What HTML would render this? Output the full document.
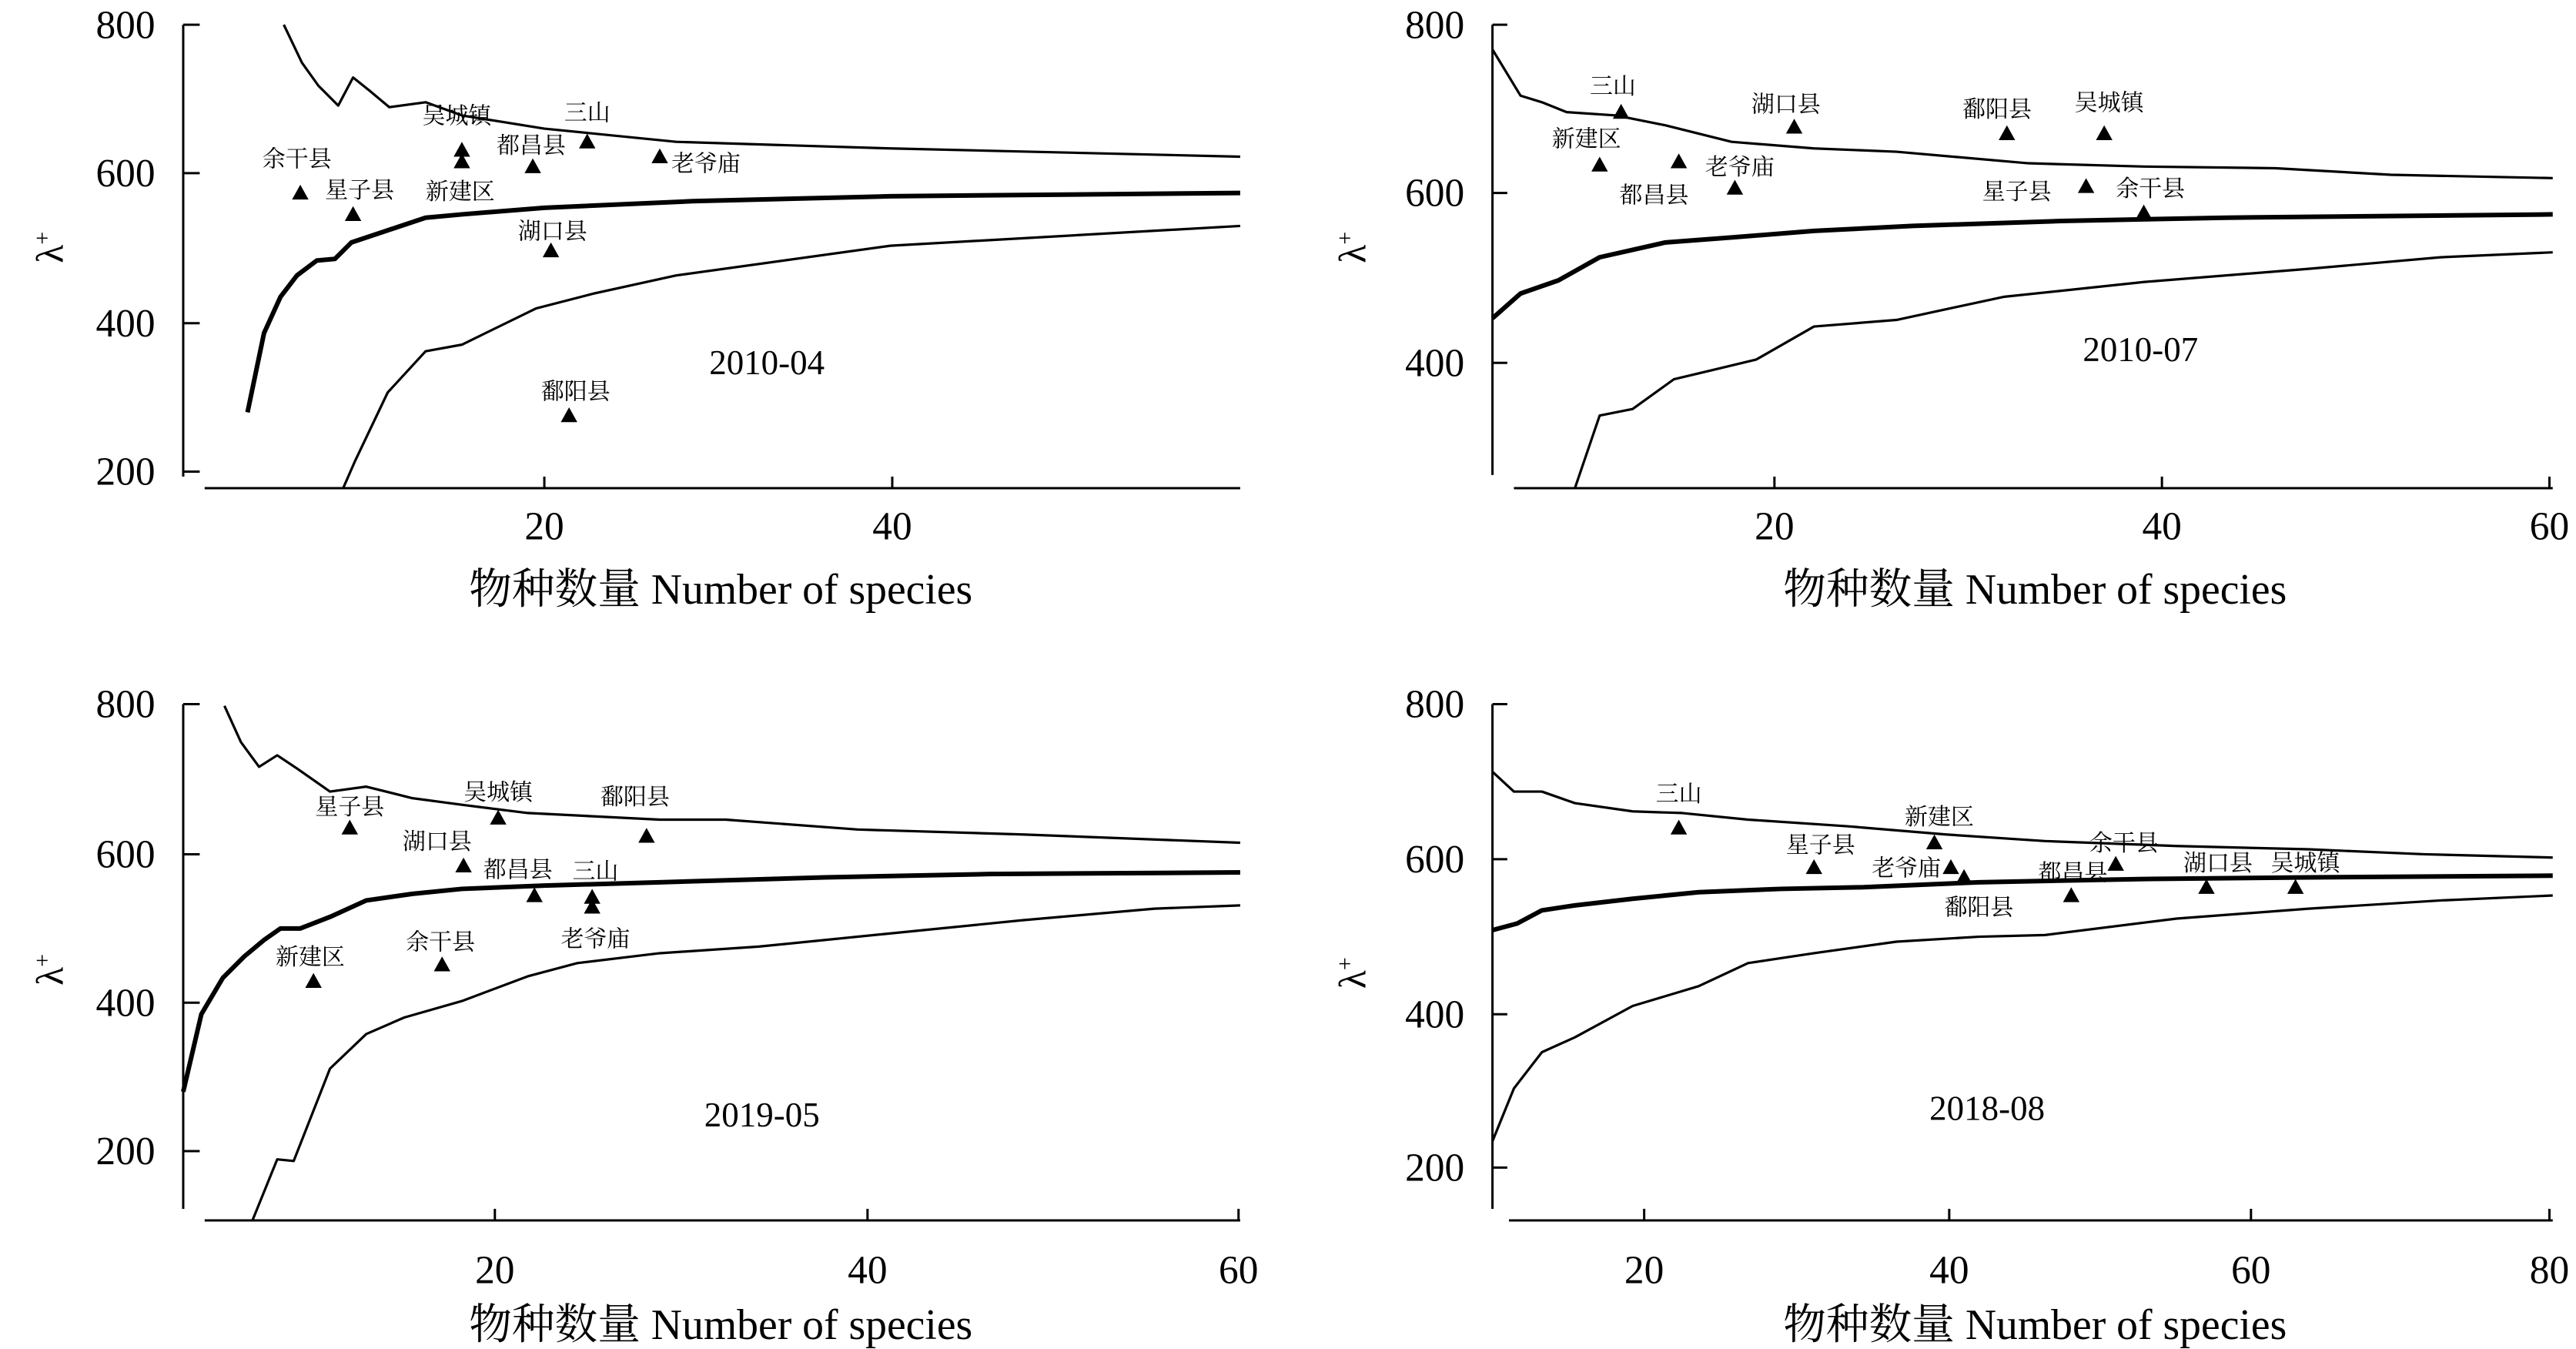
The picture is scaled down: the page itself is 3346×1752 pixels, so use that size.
<!DOCTYPE html>
<html><head><meta charset="utf-8"><style>
html,body{margin:0;padding:0;background:#fff;}
svg{display:block;}
.t{font-family:"Liberation Serif","Noto Serif CJK SC",serif;font-size:24px;fill:#000;}
.ax{font-family:"Liberation Serif","Noto Serif CJK SC",serif;font-size:26px;fill:#000;}
.lam{font-family:"Liberation Serif",serif;font-size:23px;fill:#000;}
.p{font-family:"Liberation Serif","Noto Serif CJK SC","Noto Sans CJK SC",serif;font-size:14px;fill:#000;}
.d{font-family:"Liberation Serif",serif;font-size:21px;fill:#000;}
.l{fill:none;stroke:#000;stroke-width:1.5;stroke-linejoin:round;}
.m{fill:none;stroke:#000;stroke-width:2.8;stroke-linejoin:round;}
.a{stroke:#000;stroke-width:1.4;}
</style></head><body>
<svg width="3346" height="1752" viewBox="0 0 1562 818" xmlns="http://www.w3.org/2000/svg">
<defs><path id="tri" d="M0,-5 L5,4 L-5,4 Z"/></defs>

<!-- Panel 1 -->
<g>
<line class="a" x1="111" y1="15" x2="111" y2="289"/><line class="a" x1="124" y1="296" x2="752" y2="296"/>
<line class="a" x1="111" y1="15" x2="121" y2="15"/><line class="a" x1="111" y1="105" x2="121" y2="105"/><line class="a" x1="111" y1="196" x2="121" y2="196"/><line class="a" x1="111" y1="286" x2="121" y2="286"/>
<line class="a" x1="330" y1="296" x2="330" y2="289"/><line class="a" x1="541" y1="296" x2="541" y2="289"/>
<text class="t" x="94" y="23" text-anchor="end">800</text><text class="t" x="94" y="113" text-anchor="end">600</text><text class="t" x="94" y="204" text-anchor="end">400</text><text class="t" x="94" y="294" text-anchor="end">200</text>
<text class="t" x="330" y="327" text-anchor="middle">20</text><text class="t" x="541" y="327" text-anchor="middle">40</text>
<text class="ax" x="437" y="366" text-anchor="middle">物种数量 Number of species</text>
<text class="lam" transform="translate(38,150) rotate(-90)" text-anchor="middle">λ<tspan dy="-8" font-size="14">+</tspan></text>
<polyline class="l" points="172,15 183,38 193,52 205,64 214,47 224,55 236,65 258,62 280,70 330,78 410,86 540,90 752,95"/>
<polyline class="m" points="150,250 160,202 170,180 180,167 192,158 203,157 213,147 234,140 258,132 280,130 330,126 420,122 540,119 752,117"/>
<polyline class="l" points="208,296 215,280 235,238 258,213 280,209 325,187 360,178 410,167 540,149 752,137"/>
<use href="#tri" x="182" y="117"/><text class="p" x="180" y="101" text-anchor="middle">余干县</text>
<use href="#tri" x="214" y="130"/><text class="p" x="218" y="120" text-anchor="middle">星子县</text>
<use href="#tri" x="280" y="91"/><text class="p" x="277" y="75" text-anchor="middle">吴城镇</text>
<use href="#tri" x="280" y="98"/><text class="p" x="279" y="121" text-anchor="middle">新建区</text>
<use href="#tri" x="323" y="101"/><text class="p" x="322" y="93" text-anchor="middle">都昌县</text>
<use href="#tri" x="356" y="86"/><text class="p" x="356" y="73" text-anchor="middle">三山</text>
<use href="#tri" x="400" y="95"/><text class="p" x="428" y="104" text-anchor="middle">老爷庙</text>
<use href="#tri" x="334" y="152"/><text class="p" x="335" y="145" text-anchor="middle">湖口县</text>
<use href="#tri" x="345" y="252"/><text class="p" x="349" y="242" text-anchor="middle">鄱阳县</text>
<text class="d" x="465" y="227" text-anchor="middle">2010-04</text>
</g>

<!-- Panel 2 -->
<g>
<line class="a" x1="905" y1="15" x2="905" y2="288"/><line class="a" x1="918" y1="296" x2="1548" y2="296"/>
<line class="a" x1="905" y1="15" x2="914" y2="15"/><line class="a" x1="905" y1="117" x2="914" y2="117"/><line class="a" x1="905" y1="220" x2="914" y2="220"/>
<line class="a" x1="1076" y1="296" x2="1076" y2="289"/><line class="a" x1="1311" y1="296" x2="1311" y2="289"/><line class="a" x1="1546" y1="296" x2="1546" y2="289"/>
<text class="t" x="888" y="23" text-anchor="end">800</text><text class="t" x="888" y="125" text-anchor="end">600</text><text class="t" x="888" y="228" text-anchor="end">400</text>
<text class="t" x="1076" y="327" text-anchor="middle">20</text><text class="t" x="1311" y="327" text-anchor="middle">40</text><text class="t" x="1546" y="327" text-anchor="middle">60</text>
<text class="ax" x="1234" y="366" text-anchor="middle">物种数量 Number of species</text>
<text class="lam" transform="translate(828,150) rotate(-90)" text-anchor="middle">λ<tspan dy="-8" font-size="14">+</tspan></text>
<polyline class="l" points="905,30 922,58 935,62 950,68 980,70 1010,76 1050,86 1100,90 1150,92 1230,99 1300,101 1380,102 1450,106 1548,108"/>
<polyline class="m" points="905,193 922,178 945,170 970,156 1010,147 1050,144 1100,140 1160,137 1250,134 1350,132 1548,130"/>
<polyline class="l" points="955,296 970,252 990,248 1015,230 1040,224 1065,218 1100,198 1150,194 1215,180 1300,171 1400,163 1480,156 1548,153"/>
<use href="#tri" x="983" y="68"/><text class="p" x="978" y="57" text-anchor="middle">三山</text>
<use href="#tri" x="1088" y="77"/><text class="p" x="1083" y="68" text-anchor="middle">湖口县</text>
<use href="#tri" x="1217" y="81"/><text class="p" x="1211" y="71" text-anchor="middle">鄱阳县</text>
<use href="#tri" x="1276" y="81"/><text class="p" x="1279" y="67" text-anchor="middle">吴城镇</text>
<use href="#tri" x="970" y="100"/><text class="p" x="962" y="89" text-anchor="middle">新建区</text>
<use href="#tri" x="1018" y="98"/><text class="p" x="1003" y="123" text-anchor="middle">都昌县</text>
<use href="#tri" x="1052" y="114"/><text class="p" x="1055" y="106" text-anchor="middle">老爷庙</text>
<use href="#tri" x="1265" y="113"/><text class="p" x="1223" y="121" text-anchor="middle">星子县</text>
<use href="#tri" x="1300" y="129"/><text class="p" x="1304" y="119" text-anchor="middle">余干县</text>
<text class="d" x="1298" y="219" text-anchor="middle">2010-07</text>
</g>

<!-- Panel 3 -->
<g>
<line class="a" x1="111" y1="427" x2="111" y2="733"/><line class="a" x1="124" y1="740" x2="752" y2="740"/>
<line class="a" x1="111" y1="427" x2="121" y2="427"/><line class="a" x1="111" y1="518" x2="121" y2="518"/><line class="a" x1="111" y1="608" x2="121" y2="608"/><line class="a" x1="111" y1="698" x2="121" y2="698"/>
<line class="a" x1="300" y1="740" x2="300" y2="733"/><line class="a" x1="526" y1="740" x2="526" y2="733"/><line class="a" x1="751" y1="740" x2="751" y2="733"/>
<text class="t" x="94" y="435" text-anchor="end">800</text><text class="t" x="94" y="526" text-anchor="end">600</text><text class="t" x="94" y="616" text-anchor="end">400</text><text class="t" x="94" y="706" text-anchor="end">200</text>
<text class="t" x="300" y="778" text-anchor="middle">20</text><text class="t" x="526" y="778" text-anchor="middle">40</text><text class="t" x="751" y="778" text-anchor="middle">60</text>
<text class="ax" x="437" y="812" text-anchor="middle">物种数量 Number of species</text>
<text class="lam" transform="translate(38,588) rotate(-90)" text-anchor="middle">λ<tspan dy="-8" font-size="14">+</tspan></text>
<polyline class="l" points="136,428 146,450 157,465 168,458 180,466 200,480 222,477 250,484 280,488 320,493 400,497 440,497 520,503 620,506 752,511"/>
<polyline class="m" points="111,662 122,615 135,593 148,580 160,570 170,563 182,563 200,556 222,546 250,542 280,539 330,537 400,535 500,532 600,530 752,529"/>
<polyline class="l" points="153,740 168,703 178,704 200,648 222,627 245,617 280,607 320,592 350,584 400,578 460,574 540,566 620,558 700,551 752,549"/>
<use href="#tri" x="212" y="502"/><text class="p" x="212" y="494" text-anchor="middle">星子县</text>
<use href="#tri" x="302" y="496"/><text class="p" x="302" y="485" text-anchor="middle">吴城镇</text>
<use href="#tri" x="392" y="507"/><text class="p" x="385" y="488" text-anchor="middle">鄱阳县</text>
<use href="#tri" x="281" y="525"/><text class="p" x="265" y="515" text-anchor="middle">湖口县</text>
<use href="#tri" x="324" y="543"/><text class="p" x="314" y="532" text-anchor="middle">都昌县</text>
<use href="#tri" x="359" y="544"/><use href="#tri" x="359" y="550"/><text class="p" x="361" y="533" text-anchor="middle">三山</text>
<text class="p" x="361" y="574" text-anchor="middle">老爷庙</text>
<use href="#tri" x="190" y="595"/><text class="p" x="188" y="585" text-anchor="middle">新建区</text>
<use href="#tri" x="268" y="585"/><text class="p" x="267" y="576" text-anchor="middle">余干县</text>
<text class="d" x="462" y="683" text-anchor="middle">2019-05</text>
</g>

<!-- Panel 4 -->
<g>
<line class="a" x1="905" y1="427" x2="905" y2="733"/><line class="a" x1="915" y1="740" x2="1548" y2="740"/>
<line class="a" x1="905" y1="427" x2="914" y2="427"/><line class="a" x1="905" y1="521" x2="914" y2="521"/><line class="a" x1="905" y1="615" x2="914" y2="615"/><line class="a" x1="905" y1="708" x2="914" y2="708"/>
<line class="a" x1="997" y1="740" x2="997" y2="733"/><line class="a" x1="1182" y1="740" x2="1182" y2="733"/><line class="a" x1="1365" y1="740" x2="1365" y2="733"/><line class="a" x1="1546" y1="740" x2="1546" y2="733"/>
<text class="t" x="888" y="435" text-anchor="end">800</text><text class="t" x="888" y="529" text-anchor="end">600</text><text class="t" x="888" y="623" text-anchor="end">400</text><text class="t" x="888" y="716" text-anchor="end">200</text>
<text class="t" x="997" y="778" text-anchor="middle">20</text><text class="t" x="1182" y="778" text-anchor="middle">40</text><text class="t" x="1365" y="778" text-anchor="middle">60</text><text class="t" x="1546" y="778" text-anchor="middle">80</text>
<text class="ax" x="1234" y="812" text-anchor="middle">物种数量 Number of species</text>
<text class="lam" transform="translate(828,590) rotate(-90)" text-anchor="middle">λ<tspan dy="-8" font-size="14">+</tspan></text>
<polyline class="l" points="905,468 918,480 935,480 955,487 990,492 1020,493 1060,497 1120,501 1180,506 1240,510 1320,513 1400,515 1470,518 1548,520"/>
<polyline class="m" points="905,564 920,560 935,552 955,549 990,545 1030,541 1080,539 1130,538 1200,535 1300,533 1400,532 1548,531"/>
<polyline class="l" points="905,692 918,660 935,638 955,629 990,610 1030,598 1060,584 1100,578 1150,571 1200,568 1240,567 1320,557 1400,551 1480,546 1548,543"/>
<use href="#tri" x="1018" y="502"/><text class="p" x="1018" y="486" text-anchor="middle">三山</text>
<use href="#tri" x="1173" y="511"/><text class="p" x="1176" y="500" text-anchor="middle">新建区</text>
<use href="#tri" x="1100" y="526"/><text class="p" x="1104" y="517" text-anchor="middle">星子县</text>
<use href="#tri" x="1183" y="526"/><text class="p" x="1156" y="531" text-anchor="middle">老爷庙</text>
<use href="#tri" x="1191" y="532"/><text class="p" x="1200" y="555" text-anchor="middle">鄱阳县</text>
<use href="#tri" x="1283" y="524"/><text class="p" x="1288" y="516" text-anchor="middle">余干县</text>
<use href="#tri" x="1256" y="543"/><text class="p" x="1257" y="534" text-anchor="middle">都昌县</text>
<use href="#tri" x="1338" y="538"/><text class="p" x="1345" y="528" text-anchor="middle">湖口县</text>
<use href="#tri" x="1392" y="538"/><text class="p" x="1398" y="528" text-anchor="middle">吴城镇</text>
<text class="d" x="1205" y="679" text-anchor="middle">2018-08</text>
</g>
</svg>
</body></html>
